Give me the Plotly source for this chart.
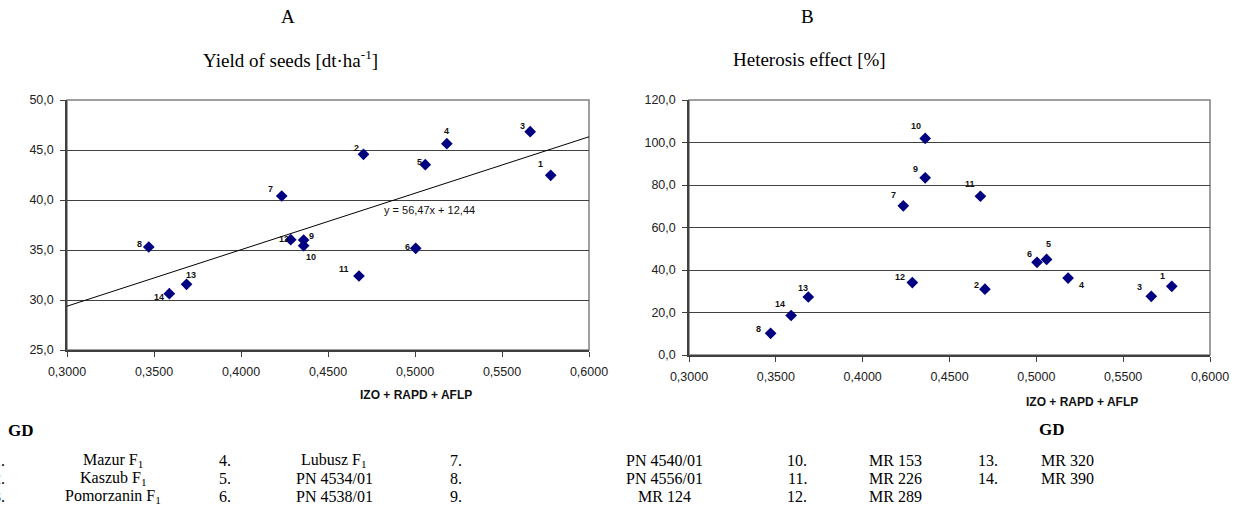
import plotly.graph_objects as go

# ---------------- data ----------------
ids = [str(i) for i in range(1, 15)]
gd = [0.5780, 0.4704, 0.5662, 0.5183, 0.5059, 0.5004, 0.4234,
      0.3470, 0.4360, 0.4360, 0.4678, 0.4286, 0.3687, 0.3588]
yield_seeds = [42.47, 44.57, 46.83, 45.63, 43.53, 35.17, 40.40,
               35.30, 36.00, 35.43, 32.40, 36.03, 31.57, 30.63]
heterosis = [32.3, 31.0, 27.6, 36.2, 45.0, 43.6, 70.2,
             10.2, 83.4, 101.9, 74.7, 34.1, 27.3, 18.6]
trend_slope = 56.47
trend_intercept = 12.44
trend_label = "y = 56,47x + 12,44"
x_ticks = [0.30, 0.35, 0.40, 0.45, 0.50, 0.55, 0.60]
yield_ticks = [25, 30, 35, 40, 45, 50]
het_ticks = [0, 20, 40, 60, 80, 100, 120]
hybrid_names = ["Mazur F<sub>1</sub>", "Kaszub F<sub>1</sub>", "Pomorzanin F<sub>1</sub>",
                "Lubusz F<sub>1</sub>", "PN 4534/01", "PN 4538/01",
                "PN 4540/01", "PN 4556/01", "MR 124",
                "MR 153", "MR 226", "MR 289",
                "MR 320", "MR 390"]

# ---------------- styles / positions ----------------
W, H = 1244, 520
SANS = "Arial, Liberation Sans, sans-serif"
SERIF = "Times New Roman, Liberation Serif, serif"
NAVY = "#000080"

# label offsets (pixels) for point numbers
left_dx = [-10, -7, -8, 0, -6, -8, -11, -9, 8, 7, -15, -7, 4, -10]
left_dy = [11, 6, 6, 13, 3, 1, 7, 3, 4, -11, 7, 1, 9, -3]
right_dx = [-9, -8, -12, 13, 2, -8, -10, -12, -10, -9, -10, -12, -5, -11]
right_dy = [10, 4, 9, -7, 15, 8, 11, 4, 9, 12, 12, 6, 9, 11]


def px(x):
    return x / W


def py(y):
    return 1 - y / H


fig = go.Figure()

# left chart
fig.add_trace(go.Scatter(x=gd, y=yield_seeds, mode="markers",
                         marker=dict(symbol="diamond", size=9, color=NAVY),
                         xaxis="x", yaxis="y", showlegend=False))
tx = [x_ticks[0], x_ticks[-1]]
fig.add_trace(go.Scatter(x=tx, y=[trend_slope * v + trend_intercept for v in tx],
                         mode="lines", line=dict(color="black", width=1),
                         xaxis="x", yaxis="y", showlegend=False))
# right chart
fig.add_trace(go.Scatter(x=gd, y=heterosis, mode="markers",
                         marker=dict(symbol="diamond", size=9, color=NAVY),
                         xaxis="x2", yaxis="y2", showlegend=False))

ax_common = dict(showline=True, linecolor="#404040", linewidth=1.5,
                 ticks="outside", ticklen=5, tickcolor="#404040", tickwidth=1,
                 tickfont=dict(family=SANS, size=12.5, color="#222"),
                 zeroline=False, ticklabelstandoff=4, automargin=False)

fig.update_layout(
    width=W, height=H,
    margin=dict(l=0, r=0, t=0, b=0, pad=0, autoexpand=False),
    paper_bgcolor="white", plot_bgcolor="white",
    separators=", ",
    xaxis=dict(domain=[px(67), px(589)], range=[0.3, 0.6], tickvals=x_ticks,
               tickformat=".4f", showgrid=False, anchor="y", **ax_common),
    yaxis=dict(domain=[py(350), py(100)], range=[25, 50], tickvals=yield_ticks,
               tickformat=".1f", showgrid=True, gridcolor="#404040", gridwidth=1,
               anchor="x", **ax_common),
    xaxis2=dict(domain=[px(689), px(1210)], range=[0.3, 0.6], tickvals=x_ticks,
                tickformat=".4f", showgrid=False, anchor="y2", **ax_common),
    yaxis2=dict(domain=[py(355), py(100)], range=[0, 120], tickvals=het_ticks,
                tickformat=".1f", showgrid=True, gridcolor="#404040", gridwidth=1,
                anchor="x2", **ax_common),
)

shapes = []
for xr, yr in (("x", "y"), ("x2", "y2")):
    shapes.append(dict(type="rect", xref=f"{xr} domain", yref=f"{yr} domain",
                       x0=0, x1=1, y0=0, y1=1, line=dict(color="#808080", width=1.5),
                       layer="below"))
fig.update_layout(shapes=shapes)

ann = []
for i, t in enumerate(ids):
    ann.append(dict(x=gd[i], y=yield_seeds[i], xref="x", yref="y", text="<b>%s</b>" % t,
                    showarrow=False, xshift=left_dx[i], yshift=left_dy[i],
                    font=dict(family=SANS, size=9, color="#111"),
                    xanchor="center", yanchor="middle"))
    ann.append(dict(x=gd[i], y=heterosis[i], xref="x2", yref="y2", text="<b>%s</b>" % t,
                    showarrow=False, xshift=right_dx[i], yshift=right_dy[i],
                    font=dict(family=SANS, size=9, color="#111"),
                    xanchor="center", yanchor="middle"))

# trend equation
ann.append(dict(x=px(429), y=py(210), xref="paper", yref="paper", text=trend_label,
                showarrow=False, font=dict(family=SANS, size=11, color="#111"),
                xanchor="center", yanchor="middle"))

# titles
for txt, x, y, size in (("A", 288, 17, 19), ("Yield of seeds [dt·ha<sup>-1</sup>]", 290, 59, 19),
                        ("B", 808, 17, 19), ("Heterosis effect [%]", 809, 59, 19)):
    ann.append(dict(x=px(x), y=py(y), xref="paper", yref="paper", text=txt,
                    showarrow=False, font=dict(family=SERIF, size=size, color="black"),
                    xanchor="center", yanchor="middle"))

# axis titles
for x, y in ((416, 395), (1082, 402)):
    ann.append(dict(x=px(x), y=py(y), xref="paper", yref="paper",
                    text="<b>IZO + RAPD + AFLP</b>", showarrow=False,
                    font=dict(family=SANS, size=12, color="#111"),
                    xanchor="center", yanchor="middle"))

# GD labels
for x, y in ((21, 430), (1052, 429)):
    ann.append(dict(x=px(x), y=py(y), xref="paper", yref="paper", text="<b>GD</b>",
                    showarrow=False, font=dict(family=SERIF, size=17, color="black"),
                    xanchor="center", yanchor="middle"))

# key table
num_cx = [-1, 225, 456, 797, 988]
name_cx = [113, 334, 664, 895, 1067]
row_y = [460, 478, 496]
for i, nm in enumerate(hybrid_names):
    c, r = divmod(i, 3)
    ann.append(dict(x=px(num_cx[c]), y=py(row_y[r]), xref="paper", yref="paper",
                    text=f"{ids[i]}.", showarrow=False,
                    font=dict(family=SERIF, size=16, color="black"),
                    xanchor="center", yanchor="middle"))
    ann.append(dict(x=px(name_cx[c]), y=py(row_y[r]), xref="paper", yref="paper",
                    text=nm, showarrow=False,
                    font=dict(family=SERIF, size=16, color="black"),
                    xanchor="center", yanchor="middle"))

fig.update_layout(annotations=ann)

fig.write_html("out.html", config={"displayModeBar": False},
               post_script="document.body.style.margin='0';document.body.style.overflow='hidden';")
